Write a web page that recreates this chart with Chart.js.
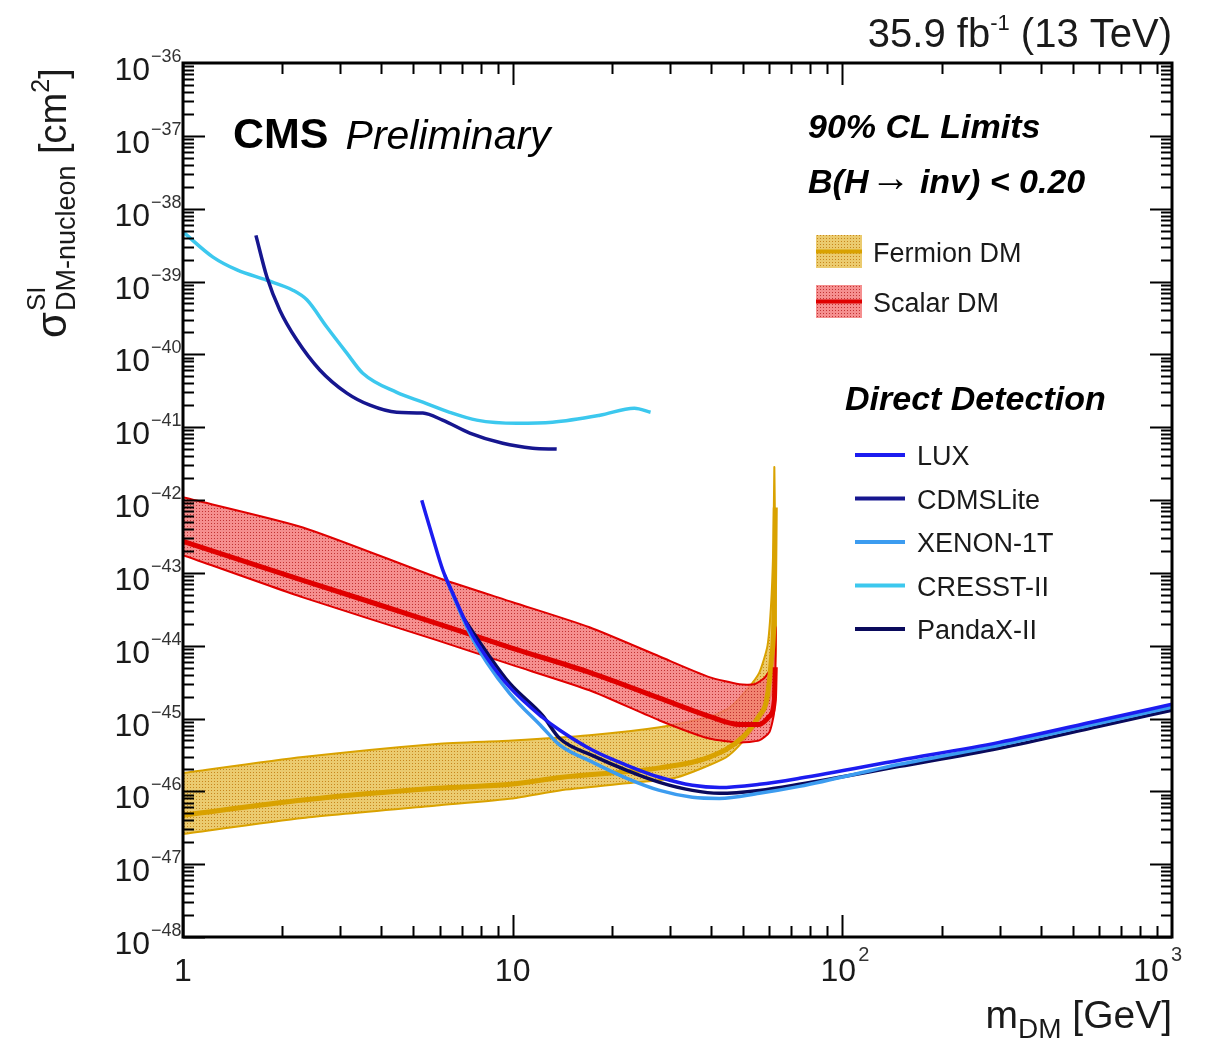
<!DOCTYPE html>
<html>
<head>
<meta charset="utf-8">
<script src="https://cdn.jsdelivr.net/npm/chart.js@4.4.1/dist/chart.umd.min.js"></script>
<style>
  html, body { margin: 0; padding: 0; background: #fff; }
  #wrap { width: 1209px; height: 1044px; }
</style>
</head>
<body>
<div id="wrap"><canvas id="c" width="1209" height="1044"></canvas></div>
<script>
// --- данные: [m_DM (GeV), sigma (cm^2)] --------------------------------------
const fermionUpper = [[1, 1.78e-46], [2.31, 2.95e-46], [5.88, 4.47e-46], [10, 5.0e-46], [17.1, 5.9e-46], [27.9, 7.6e-46], [39.5, 1.05e-45], [45.5, 1.41e-45], [51.2, 2.45e-45], [56.0, 4.27e-45], [59.3, 1.0e-44], [60.9, 4.2e-44], [61.8, 2.8e-43], [62.2, 2.8e-42]];
const fermionCentral = [[1, 4.7e-47], [2.31, 7.6e-47], [5.88, 1.1e-46], [10, 1.26e-46], [13.9, 1.55e-46], [27.9, 2.1e-46], [39.5, 2.95e-46], [49.8, 5.5e-46], [56.0, 1.1e-45], [58.9, 1.78e-45], [60.9, 6.3e-45], [62.2, 4.2e-44], [62.6, 7.9e-43]];
const fermionLower = [[1, 2.6e-47], [2.31, 4.3e-47], [5.88, 6.4e-47], [10, 8.0e-47], [13.9, 1.03e-46], [22.2, 1.29e-46], [31.4, 1.55e-46], [44.5, 2.95e-46], [51.2, 5.5e-46], [57.2, 1.1e-45], [61.4, 2.45e-45], [62.6, 6.3e-45], [62.9, 1.9e-44]];

const scalarUpper = [[1, 1.09e-42], [2.31, 4.2e-43], [5.88, 8.7e-44], [10, 3.95e-44], [17.1, 1.79e-44], [27.9, 7.1e-45], [39.5, 3.7e-45], [48.7, 2.95e-45], [54.1, 2.95e-45], [58.0, 3.6e-45], [60.1, 4.6e-45]];
const scalarCentral = [[1, 2.7e-43], [2.31, 7.9e-44], [5.88, 2.03e-44], [10, 9.2e-45], [17.1, 4.3e-45], [27.9, 1.9e-45], [39.5, 1.07e-45], [48.7, 8.3e-46], [56.0, 8.3e-46], [60.1, 1.07e-45], [62.2, 1.78e-45], [62.6, 5.05e-45]];
const scalarLower = [[1, 1.75e-43], [2.31, 4.6e-44], [5.88, 1.19e-44], [10, 5.4e-45], [17.1, 2.44e-45], [27.9, 9.4e-46], [39.5, 5.3e-46], [48.7, 4.7e-46], [56.0, 5.0e-46], [60.1, 6.5e-46], [62.2, 1.3e-45], [62.7, 1.79e-44]];

const luxLimit = [[5.30, 9.9e-43], [5.72, 3.08e-43], [6.14, 1.09e-43], [6.58, 5.25e-44], [7.41, 1.63e-44], [8.34, 6.9e-45], [9.79, 2.69e-45], [12.3, 1.04e-45], [13.9, 6.9e-46], [17.5, 3.66e-46], [22.2, 2.28e-46], [27.9, 1.56e-46], [35.1, 1.21e-46], [42.4, 1.13e-46], [56.0, 1.25e-46], [74.1, 1.51e-46], [149, 2.67e-46], [299, 4.7e-46], [601, 9.4e-46], [1000, 1.57e-45]];
const cdmsliteLimit = [[1.664, 4.3e-39], [1.797, 1.15e-39], [1.968, 4.0e-40], [2.215, 1.57e-40], [2.60, 6.1e-41], [3.14, 2.93e-41], [3.69, 2.0e-41], [4.45, 1.6e-41], [5.34, 1.56e-41], [6.13, 1.25e-41], [7.41, 8.3e-42], [9.33, 6.0e-42], [11.5, 5.15e-42], [13.6, 5.0e-42]];
const xenonLimit = [[6.22, 9.3e-44], [7.41, 1.48e-44], [8.34, 5.9e-45], [9.79, 2.22e-45], [12.3, 7.6e-46], [13.9, 4.3e-46], [17.5, 2.5e-46], [22.2, 1.51e-46], [27.9, 1.03e-46], [35.1, 8.3e-47], [42.4, 8.0e-47], [56.0, 9.4e-47], [74.1, 1.17e-46], [149, 2.35e-46], [299, 4.3e-46], [601, 8.6e-46], [1000, 1.43e-45]];
const cresstLimit = [[1, 4.8e-39], [1.233, 2.16e-39], [1.458, 1.44e-39], [1.797, 1.04e-39], [2.154, 7.6e-40], [2.375, 5.6e-40], [2.73, 2.37e-40], [3.14, 1.04e-40], [3.51, 5.5e-41], [4.45, 3.0e-41], [5.34, 2.2e-41], [6.44, 1.6e-41], [7.78, 1.25e-41], [10.3, 1.13e-41], [13.2, 1.17e-41], [18.4, 1.46e-41], [23.4, 1.82e-41], [26.2, 1.6e-41]];
const pandaxLimit = [[7.00, 2.62e-44], [8.34, 8.1e-45], [9.79, 3.05e-45], [12.3, 1.11e-45], [13.9, 5.3e-46], [17.5, 3.1e-46], [22.2, 1.94e-46], [27.9, 1.33e-46], [35.1, 1.03e-46], [42.4, 9.4e-47], [56.0, 1.03e-46], [74.1, 1.25e-46], [149, 2.2e-46], [299, 3.9e-46], [601, 7.8e-46], [1000, 1.30e-45]];

// оси
const massRange = [1, 1000];
const massMajorTicks = [1, 10, 100, 1000];
const massTickLabels = [['1', ''], ['10', ''], ['10', '2'], ['10', '3']];
const sigmaExponents = [-36, -37, -38, -39, -40, -41, -42, -43, -44, -45, -46, -47, -48];

const ddNames = ['LUX', 'CDMSLite', 'XENON-1T', 'CRESST-II', 'PandaX-II'];
const ddColors = ['#1c1cf0', '#16168f', '#3c9cf0', '#3cc8ee', '#0a0a5c'];
const ddSeries = [luxLimit, cdmsliteLimit, xenonLimit, cresstLimit, pandaxLimit];

const FONT = '"Liberation Sans", Arial, Helvetica, sans-serif';
const GOLD = '#d9a200';
const RED = '#e00000';

const cvs = document.getElementById('c');
const mainCtx = cvs.getContext('2d');

function dotPattern(bg, dot) {
  const t = document.createElement('canvas');
  t.width = 3; t.height = 3;
  const g = t.getContext('2d');
  g.fillStyle = bg; g.fillRect(0, 0, 3, 3);
  g.fillStyle = dot; g.fillRect(1, 1, 1, 1);
  return mainCtx.createPattern(t, 'repeat');
}
const goldFill = dotPattern('rgba(232,194,86,0.85)', 'rgba(196,128,20,0.9)');
const redFill = dotPattern('rgba(242,115,115,0.8)', 'rgba(185,35,35,0.85)');

const pts = arr => arr.map(([x, y]) => ({ x, y }));
const band = (up, lo) => pts(up).concat(pts(lo.slice().reverse()));

function txt(ctx, s, x, y, font, align = 'left', color = '#1a1a1a') {
  ctx.font = font; ctx.fillStyle = color; ctx.textAlign = align; ctx.textBaseline = 'alphabetic';
  ctx.fillText(s, x, y);
  return ctx.measureText(s).width;
}

const cmsFrame = {
  id: 'cmsFrame',
  afterDatasetsDraw(chart) {
    const { ctx, chartArea: a, scales: { x, y } } = chart;
    ctx.save();
    ctx.strokeStyle = '#000';
    ctx.lineWidth = 2;
    ctx.beginPath();
    // x ticks (низ и верх, внутрь)
    for (let d = 0; d < 3; d++) {
      for (let k = 1; k <= 9; k++) {
        const px = Math.round(x.getPixelForValue(k * Math.pow(10, d))) + 0.5;
        const len = k === 1 ? 22 : 11;
        ctx.moveTo(px, a.bottom); ctx.lineTo(px, a.bottom - len);
        ctx.moveTo(px, a.top); ctx.lineTo(px, a.top + len);
      }
    }
    // y ticks (лево и право)
    for (let e = -48; e < -36; e++) {
      for (let k = 1; k <= 9; k++) {
        const py = Math.round(y.getPixelForValue(k * Math.pow(10, e))) + 0.5;
        const len = k === 1 ? 22 : 11;
        ctx.moveTo(a.left, py); ctx.lineTo(a.left + len, py);
        ctx.moveTo(a.right, py); ctx.lineTo(a.right - len, py);
      }
    }
    ctx.stroke();
    ctx.lineWidth = 3;
    ctx.strokeRect(a.left, a.top, a.right - a.left, a.bottom - a.top);
    ctx.restore();
  },
  afterDraw(chart) {
    const { ctx, chartArea: a, scales: { x, y } } = chart;
    ctx.save();
    // y tick labels 10^n
    for (const e of sigmaExponents) {
      const py = y.getPixelForValue(Math.pow(10, e));
      txt(ctx, '10', a.left - 33, py + 17, `32px ${FONT}`, 'right');
      txt(ctx, '\u2212' + (-e), a.left - 32, py - 1, `18px ${FONT}`, 'left', '#333');
    }
    // x tick labels
    massMajorTicks.forEach((v, i) => {
      const px = x.getPixelForValue(v);
      const [base, sup] = massTickLabels[i];
      ctx.font = `32px ${FONT}`; const wb = ctx.measureText(base).width;
      ctx.font = `20px ${FONT}`; const ws = sup ? ctx.measureText(sup).width + 2 : 0;
      let x0 = px - wb / 2 - (sup ? 4 : 0);
      if (x0 + wb + ws > a.right + 10) x0 = a.right + 10 - wb - ws;
      txt(ctx, base, x0, a.bottom + 44, `32px ${FONT}`);
      if (sup) txt(ctx, sup, x0 + wb + 2, a.bottom + 24, `20px ${FONT}`, 'left', '#333');
    });
    // x title
    {
      ctx.font = `39px ${FONT}`; const w1 = ctx.measureText('m').width; const w3 = ctx.measureText(' [GeV]').width;
      ctx.font = `28px ${FONT}`; const w2 = ctx.measureText('DM').width;
      const x0 = a.right - (w1 + w2 + w3);
      txt(ctx, 'm', x0, 1028, `39px ${FONT}`);
      txt(ctx, 'DM', x0 + w1, 1038, `28px ${FONT}`);
      txt(ctx, ' [GeV]', x0 + w1 + w2, 1028, `39px ${FONT}`);
    }
    // y title (повёрнутый)
    ctx.save();
    ctx.translate(66, 338);
    ctx.rotate(-Math.PI / 2);
    let cx = 0;
    cx += txt(ctx, '\u03c3', 0, 0, `42px ${FONT}`);
    const wSup = txt(ctx, 'SI', cx + 1, -21, `26px ${FONT}`);
    const wSub = txt(ctx, 'DM-nucleon', cx + 1, 9, `27px ${FONT}`);
    cx += Math.max(wSup, wSub) + 2;
    cx += txt(ctx, ' [cm', cx, 0, `38px ${FONT}`);
    cx += txt(ctx, '2', cx, -17, `25px ${FONT}`);
    txt(ctx, ']', cx, 0, `38px ${FONT}`);
    ctx.restore();

    // 35.9 fb-1 (13 TeV)
    {
      ctx.font = `40px ${FONT}`;
      const wa = ctx.measureText('35.9 fb').width, wc = ctx.measureText(' (13 TeV)').width;
      ctx.font = `22px ${FONT}`; const wb = ctx.measureText('-1').width;
      const x0 = a.right - (wa + wb + wc);
      txt(ctx, '35.9 fb', x0, 47, `40px ${FONT}`);
      txt(ctx, '-1', x0 + wa, 30, `22px ${FONT}`);
      txt(ctx, ' (13 TeV)', x0 + wa + wb, 47, `40px ${FONT}`);
    }
    // CMS Preliminary
    const wCms = txt(ctx, 'CMS', 233, 148, `bold 43px ${FONT}`, 'left', '#000');
    txt(ctx, 'Preliminary', 233 + wCms + 17, 149, `italic 41px ${FONT}`, 'left', '#000');
    txt(ctx, '90% CL Limits', 808, 138, `italic bold 34px ${FONT}`, 'left', '#000');
    {
      const w1 = txt(ctx, 'B(H', 808, 193, `italic bold 34px ${FONT}`, 'left', '#000');
      const w2 = txt(ctx, '\u2192', 808 + w1 + 2, 191, `40px ${FONT}`, 'left', '#000');
      txt(ctx, ' inv) < 0.20', 808 + w1 + w2 + 2, 193, `italic bold 34px ${FONT}`, 'left', '#000');
    }

    // легенда: полосы
    const boxes = [['Fermion DM', goldFill, GOLD, 235], ['Scalar DM', redFill, RED, 285]];
    for (const [label, fill, col, top] of boxes) {
      ctx.fillStyle = fill; ctx.fillRect(816, top, 46, 33);
      ctx.strokeStyle = col; ctx.lineWidth = 4;
      ctx.beginPath(); ctx.moveTo(816, top + 16.5); ctx.lineTo(862, top + 16.5); ctx.stroke();
      txt(ctx, label, 873, top + 27, `27px ${FONT}`);
    }
    txt(ctx, 'Direct Detection', 845, 410, `italic bold 34px ${FONT}`, 'left', '#000');
    ddNames.forEach((name, i) => {
      const ly = 455 + i * 43.5;
      ctx.strokeStyle = ddColors[i]; ctx.lineWidth = 4;
      ctx.beginPath(); ctx.moveTo(855, ly); ctx.lineTo(905, ly); ctx.stroke();
      txt(ctx, name, 917, ly + 10, `27px ${FONT}`);
    });
    ctx.restore();
  },
};

const lineDs = (data, color, width, order) => ({
  data: pts(data), borderColor: color, borderWidth: width, showLine: true, fill: false,
  pointRadius: 0, cubicInterpolationMode: 'monotone', order,
});

const datasets = [
  ...ddSeries.map((s, i) => lineDs(s, ddColors[i], 3.5, 1)),
  lineDs(scalarCentral, RED, 5, 2),
  lineDs(fermionCentral, GOLD, 5, 3),
  { data: band(scalarUpper, scalarLower), borderColor: RED, borderWidth: 2, backgroundColor: redFill,
    fill: 'shape', showLine: true, pointRadius: 0, tension: 0.2, order: 4 },
  { data: band(fermionUpper, fermionLower), borderColor: GOLD, borderWidth: 2, backgroundColor: goldFill,
    fill: 'shape', showLine: true, pointRadius: 0, tension: 0.2, order: 5 },
];

new Chart(cvs, {
  type: 'scatter',
  data: { datasets },
  options: {
    responsive: false, animation: false, events: [],
    layout: { padding: { left: 183, right: 37, top: 63, bottom: 107 } },
    plugins: { legend: { display: false }, tooltip: { enabled: false } },
    scales: {
      x: { type: 'logarithmic', min: massRange[0], max: massRange[1],
           grid: { display: false, drawTicks: false }, border: { display: false }, ticks: { display: false } },
      y: { type: 'logarithmic', min: 1e-48, max: 1e-36,
           grid: { display: false, drawTicks: false }, border: { display: false }, ticks: { display: false } },
    },
  },
  plugins: [cmsFrame],
});
</script>
</body>
</html>
